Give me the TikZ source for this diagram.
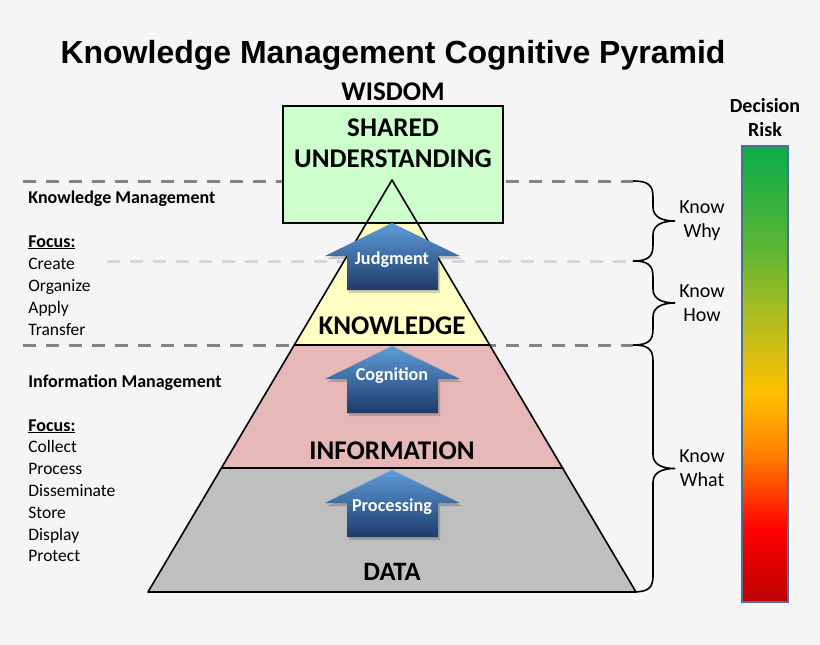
\documentclass[tikz,border=0pt]{standalone}
\usepackage{fontspec}
\setmainfont{Carlito}
\newfontfamily\titlefont{Liberation Sans}
\usetikzlibrary{positioning, calc}

\definecolor{pagegrey}{HTML}{F5F5F5}
\definecolor{datagrey}{HTML}{BFBFBF}
\definecolor{infopink}{HTML}{E6B9B8}
\definecolor{knowyellow}{HTML}{FFFFC4}
\definecolor{wisegreen}{HTML}{CCFFCC}
\definecolor{dashdark}{HTML}{848484}
\definecolor{dashlight}{HTML}{D6D6D6}
\definecolor{arrowtop}{HTML}{5E9DDA}
\definecolor{arrowbot}{HTML}{1E3A68}
\definecolor{barframe}{HTML}{4A6E96}
\definecolor{riskA}{HTML}{BE0000}
\definecolor{riskB}{HTML}{FF0000}
\definecolor{riskC}{HTML}{FF7E00}
\definecolor{riskD}{HTML}{FFC000}
\definecolor{riskE}{HTML}{B2BD1F}
\definecolor{riskF}{HTML}{5AB534}
\definecolor{riskG}{HTML}{0AAD4A}

\pgfdeclareverticalshading{riskshade}{100bp}{color(0bp)=(riskA); color(25bp)=(riskA);
  color(33bp)=(riskB); color(41bp)=(riskC); color(48bp)=(riskD); color(56bp)=(riskE);
  color(64bp)=(riskF); color(75bp)=(riskG); color(100bp)=(riskG)}

\begin{document}
\begin{tikzpicture}[x=1pt, y=-1pt, thick]
  \tikzstyle{layer} = [draw=black, line width=1.6pt, line join=round]
  \tikzstyle{levellabel} = [inner sep=0, anchor=base, font=\bfseries\fontsize{27}{30}\selectfont]
  \tikzstyle{listtext} = [inner sep=0, anchor=base west, font=\fontsize{17.5}{22}\selectfont]
  \tikzstyle{listhead} = [listtext, font=\bfseries\fontsize{18}{22}\selectfont]
  \tikzstyle{knowtext} = [inner sep=0, align=center, font=\fontsize{20}{24}\selectfont]
  \tikzstyle{arrowtext} = [inner sep=0, anchor=base, text=white, font=\bfseries\fontsize{18.2}{20}\selectfont]
  \tikzstyle{divider} = [line width=3pt, dash pattern=on 13pt off 10pt]

  % page and frame
  \fill[pagegrey] (0,0) rectangle (820,645);
  \useasboundingbox (0,0) rectangle (820,645);

  \node[inner sep=0, anchor=base, font=\titlefont\bfseries\fontsize{32}{36}\selectfont] (title) at (393,63) {Knowledge Management Cognitive Pyramid};

  % level dividers
  \draw[divider, dashdark] (23,181) -- (633,181);
  \draw[divider, dashlight] (107,261) -- (633,261);
  \draw[divider, dashdark] (23,345) -- (633,345);

  % pyramid
  \coordinate (apex) at (392,180);
  \coordinate (baseL) at (148,592);
  \coordinate (baseR) at (636,592);
  \coordinate (wisL) at ($(apex)!0.1036!(baseL)$);
  \coordinate (wisR) at ($(apex)!0.1036!(baseR)$);
  \coordinate (knowL) at ($(apex)!0.4005!(baseL)$);
  \coordinate (knowR) at ($(apex)!0.4005!(baseR)$);
  \coordinate (infoL) at ($(apex)!0.699!(baseL)$);
  \coordinate (infoR) at ($(apex)!0.699!(baseR)$);

  \filldraw[layer, fill=datagrey] (baseL) -- (baseR) -- (infoR) -- (infoL) -- cycle;
  \filldraw[layer, fill=infopink] (infoL) -- (infoR) -- (knowR) -- (knowL) -- cycle;
  \filldraw[layer, fill=knowyellow] (knowL) -- (knowR) -- (wisR) -- (wisL) -- cycle;
  \node[draw=black, line width=2pt, fill=wisegreen, minimum width=220pt, minimum height=116.7pt] (sharedbox) at (393,164.3) {};
  \draw[layer] (wisL) -- (apex) -- (wisR);

  % transformation arrows
  \foreach \ty/\dy/\lbl in {223/41/Judgment, 346/34/Cognition, 470/41/Processing}{
    \fill[black, opacity=0.18] (394,\ty+3) -- ++(68,33) -- ++(-22,0) -- ++(0,34) -- ++(-91,0) -- ++(0,-34) -- ++(-22,0) -- cycle;
    \shade[top color=arrowtop, bottom color=arrowbot] (392,\ty) -- ++(68,33) -- ++(-22,0) -- ++(0,34) -- ++(-91,0) -- ++(0,-34) -- ++(-22,0) -- cycle;
    \node[arrowtext] (arrow\lbl) at (392,{\ty+\dy}) {\lbl};
  }

  % level names
  \node[levellabel] (wisdom) at (393,100.7) {WISDOM};
  \node[levellabel] (shared) at (393,136) {SHARED};
  \node[levellabel] (understanding) at (393,167.3) {UNDERSTANDING};
  \node[levellabel] (knowledge) at (392,334) {KNOWLEDGE};
  \node[levellabel] (information) at (392,459) {INFORMATION};
  \node[levellabel, font=\bfseries\fontsize{26.5}{30}\selectfont] (data) at (392,580.7) {DATA};

  % left side notes
  \node[listhead] (kmhead) at (28,203) {Knowledge Management};
  \node[listhead] (kmfocus) at (28,247) {\underline{Focus:}};
  \foreach \w [count=\i] in {Create,Organize,Apply,Transfer}
    \node[listtext] (kmitem\i) at (28,{247+22*\i}) {\w};

  \node[listhead] (imhead) at (28,387) {Information Management};
  \node[listhead] (imfocus) at (28,431) {\underline{Focus:}};
  \foreach \w [count=\i] in {Collect,Process,Disseminate,Store,Display,Protect}
    \node[listtext] (imitem\i) at (28,{431+21.8*\i}) {\w};

  % braces on the right
  \foreach \ya/\yb/\txt in {181/261/{Know\\Why}, 261/345/{Know\\How}, 345/592/{Know\\What}}{
    \pgfmathsetmacro\ym{(\ya+\yb)/2}
    \draw[line width=1.6pt] (633,\ya) .. controls (648,\ya) and (653,\ya+4) .. (653,\ya+16)
      -- (653,\ym-14) .. controls (653,\ym-4) and (662,\ym) .. (675,\ym)
      .. controls (662,\ym) and (653,\ym+4) .. (653,\ym+14)
      -- (653,\yb-16) .. controls (653,\yb-4) and (648,\yb) .. (633,\yb);
    \node[knowtext] at (702,\ym) {\txt};
  }

  % decision risk bar
  \node[shading=riskshade, draw=barframe, line width=1.2pt, minimum width=46pt, minimum height=456pt, inner sep=0] (riskbar) at (765,374) {};
  \node[knowtext, font=\bfseries\fontsize{20}{24}\selectfont, above=8pt of riskbar] (risklabel) {Decision\\Risk};
\end{tikzpicture}
\end{document}
